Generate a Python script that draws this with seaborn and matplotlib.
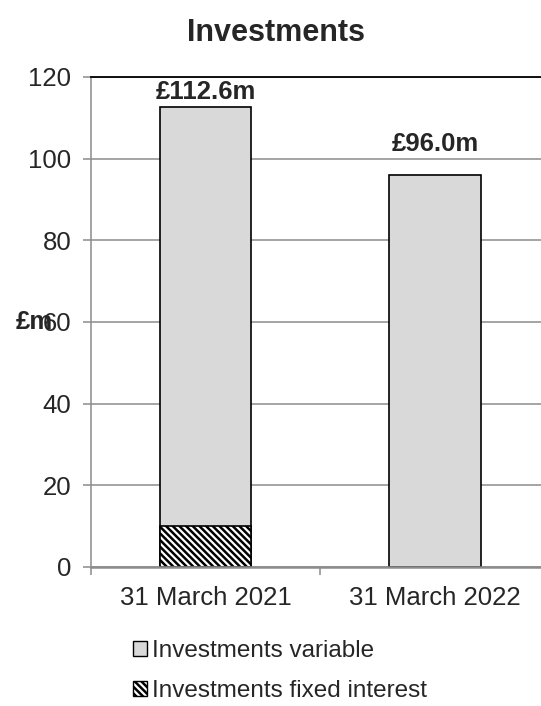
import matplotlib
matplotlib.use('Agg')
import matplotlib.pyplot as plt
from matplotlib.patches import Patch
import pandas as pd
import seaborn as sns

# data
dates = ['31 March 2021', '31 March 2022']
fixed_interest = [10.0, 0.0]
variable = [102.6, 96.0]
total_labels = ['£112.6m', '£96.0m']
label_pad_pt = [2, 14]

sns.set_style('white')
plt.rcParams['font.family'] = ['Liberation Sans', 'DejaVu Sans']
plt.rcParams['hatch.linewidth'] = 1.8

df = pd.DataFrame({'date': dates, 'fixed': fixed_interest, 'variable': variable})
df['total'] = df['fixed'] + df['variable']

HATCH = '\\' * 5

fig = plt.figure(figsize=(5.41, 7.06), dpi=100)
ax = fig.add_axes([0.168, 0.197, 0.848, 0.694])

sns.barplot(data=df, x='date', y='total', order=dates, color='#d9d9d9',
            edgecolor='black', linewidth=1.2, width=0.4, saturation=1, ax=ax)
sns.barplot(data=df[df['fixed'] > 0], x='date', y='fixed', order=dates, color='white',
            edgecolor='black', linewidth=1.2, width=0.4, saturation=1,
            hatch=HATCH, ax=ax)

for i, (tot, lab) in enumerate(zip(df['total'], total_labels)):
    ax.annotate(lab, (i, tot), xytext=(0, label_pad_pt[i]), textcoords='offset points',
                ha='center', va='bottom', fontsize=18.5, fontweight='bold')

ax.set_ylim(0, 120)
ax.set_xlim(-0.5, 1.5)
ax.set_yticks(range(0, 121, 20))
ax.yaxis.grid(True, color='#8c8c8c', lw=1.1)
ax.set_axisbelow(True)
ax.set_xlabel('')
ax.set_ylabel('')

ax.spines['right'].set_visible(False)
ax.spines['top'].set_color('black')
ax.spines['top'].set_linewidth(1.3)
ax.spines['left'].set_color('#8c8c8c')
ax.spines['left'].set_linewidth(1.1)
ax.spines['bottom'].set_color('#8c8c8c')
ax.spines['bottom'].set_linewidth(1.8)

ax.tick_params(axis='y', left=True, length=6, width=1.1, color='#8c8c8c',
               labelsize=18.5, pad=8)
ax.tick_params(axis='x', bottom=False, labelsize=18.5, pad=10)
ax.set_xticks([-0.5, 0.5, 1.5], minor=True)
ax.tick_params(axis='x', which='minor', bottom=True, length=6, width=1.1,
               color='#8c8c8c')

fig.text(276 / 541, 1 - 33 / 706, 'Investments', ha='center', va='center',
         fontsize=22, fontweight='bold')
fig.text(34 / 541, 1 - 322 / 706, '£m', ha='center', va='center',
         fontsize=18.5, fontweight='bold')

handles = [Patch(facecolor='#d9d9d9', edgecolor='black', lw=1),
           Patch(facecolor='white', edgecolor='black', lw=1, hatch=HATCH)]
fig.legend(handles, ['Investments variable', 'Investments fixed interest'],
           loc='center', bbox_to_anchor=(280 / 541, 1 - 671 / 706), ncol=1,
           frameon=False, fontsize=17.5, handlelength=0.55, handleheight=0.55,
           handletextpad=0.2, labelspacing=0.75)

fig.savefig('out.png', dpi=100)
